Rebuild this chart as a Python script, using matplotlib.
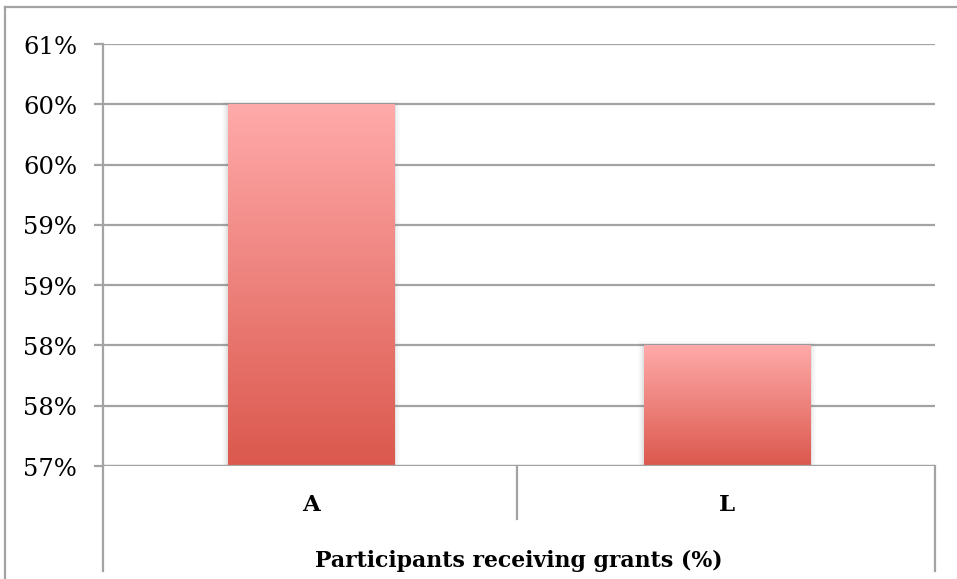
import matplotlib
matplotlib.use("Agg")
import matplotlib.pyplot as plt
import numpy as np
from matplotlib.lines import Line2D
from matplotlib.colors import LinearSegmentedColormap
from matplotlib.transforms import ScaledTranslation

categories = ["A", "L"]
values = [60.0, 58.0]
y_ticks = [57.0, 57.5, 58.0, 58.5, 59.0, 59.5, 60.0, 60.5]
axis_title = "Participants receiving grants (%)"

W, H = 957, 579
fig = plt.figure(figsize=(W / 100, H / 100), dpi=100)
L, R, T, B = 103, 935, 44, 466
ax = fig.add_axes([L / W, 1 - B / H, (R - L) / W, (B - T) / H])

grid_col = "#A3A3A3"
font = "DejaVu Serif"

ax.set_xlim(-0.5, len(categories) - 0.5)
ax.set_ylim(y_ticks[0], y_ticks[-1])
ax.set_yticks(y_ticks)
ax.set_yticklabels([f"{int(v + 0.5)}%" for v in y_ticks], fontsize=17.5, family=font)
ax.yaxis.grid(True, color=grid_col, linewidth=1.6)
ax.set_axisbelow(True)
ax.tick_params(axis="y", length=6.5, width=1.6, color=grid_col, pad=12)
shift = ScaledTranslation(0, -3 / 100, fig.dpi_scale_trans)
for lbl in ax.get_yticklabels():
    lbl.set_verticalalignment("center")
    lbl.set_transform(lbl.get_transform() + shift)
for s in ["top", "right", "bottom"]:
    ax.spines[s].set_visible(False)
ax.spines["left"].set_color(grid_col)
ax.spines["left"].set_linewidth(1.6)

ax.set_xticks(range(len(categories)))
ax.set_xticklabels(categories, fontsize=16.5, fontweight="bold", family=font)
ax.tick_params(axis="x", length=0, pad=20)

cmap = LinearSegmentedColormap.from_list("g", ["#DB584D", "#FFAAAA"])
grad = np.linspace(0, 1, 256).reshape(-1, 1)
bars = ax.bar(range(len(categories)), [v - y_ticks[0] for v in values],
              bottom=y_ticks[0], width=0.40, color="none", edgecolor="none", zorder=3)
for rect in bars:
    x0, y0 = rect.get_x(), rect.get_y()
    w, h = rect.get_width(), rect.get_height()
    im = ax.imshow(grad, extent=(x0, x0 + w, y0, y0 + h), origin="lower",
                   cmap=cmap, aspect="auto", zorder=3, interpolation="bicubic")
    im.set_clip_path(rect)
    # soft shadow
    for k, a in [(0.005, 0.12), (0.010, 0.06), (0.015, 0.03)]:
        sh = plt.Rectangle((x0 - k, y0), w + 2 * k, h + k * 2.2, facecolor="#777777",
                           alpha=a, edgecolor="none", zorder=2.5)
        ax.add_patch(sh)

# bottom axis line (category axis)
ax.axhline(y_ticks[0], color=grid_col, linewidth=1.6, zorder=4)

# multi-level category separators (axes coords)
def yfrac(py):
    return (B - py) / (B - T)

def xfrac(px):
    return (px - L) / (R - L)

lines = [
    ([0, 0], [yfrac(B), yfrac(571)]),
    ([1, 1], [yfrac(B), yfrac(571)]),
    ([xfrac(517), xfrac(517)], [yfrac(B), yfrac(519)]),
]
for xs, ys in lines:
    ax.add_line(Line2D(xs, ys, transform=ax.transAxes, color=grid_col,
                       linewidth=1.6, clip_on=False))

ax.text(0.5, yfrac(567), axis_title, transform=ax.transAxes, ha="center", va="baseline",
        fontsize=15.8, fontweight="bold", family=font)

# outer chart border
fig.add_artist(Line2D([5 / W, 5 / W], [1 - 7 / H, 0], transform=fig.transFigure,
                      color=grid_col, linewidth=1.6))
fig.add_artist(Line2D([5 / W, 1], [1 - 7 / H, 1 - 7 / H], transform=fig.transFigure,
                      color=grid_col, linewidth=1.6))

fig.savefig("out.png", dpi=100)
